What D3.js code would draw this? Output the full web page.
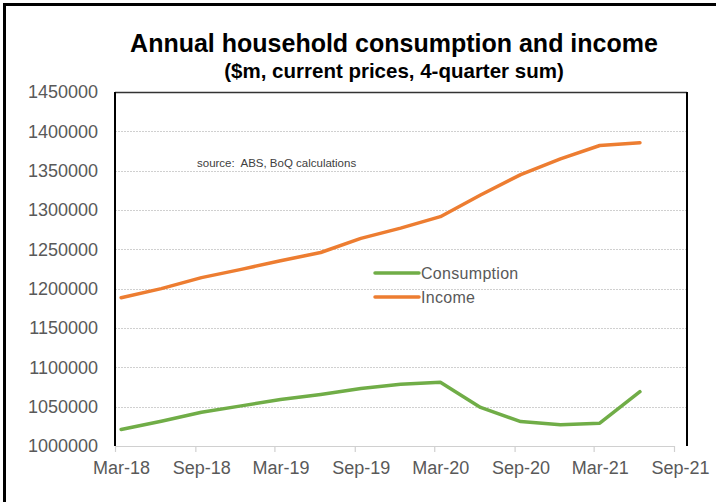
<!DOCTYPE html>
<html>
<head>
<meta charset="utf-8">
<script src="https://cdn.jsdelivr.net/npm/d3@7"></script>
<style>
  body { margin: 0; background: #fff; }
  text { font-family: "Liberation Sans", Arial, sans-serif; }
</style>
</head>
<body>
<div id="chart"></div>
<script>
// quarterly data
var quarters = ["Mar-18", "Jun-18", "Sep-18", "Dec-18", "Mar-19", "Jun-19", "Sep-19",
                "Dec-19", "Mar-20", "Jun-20", "Sep-20", "Dec-20", "Mar-21", "Jun-21"];
var consumption = [1021000, 1031500, 1043000, 1051000, 1059000, 1065500, 1073000,
                   1078500, 1081000, 1049000, 1031000, 1027000, 1029000, 1069000];
var income = [1188500, 1200000, 1214000, 1224500, 1235500, 1246000, 1264000,
              1277000, 1291500, 1319000, 1345000, 1365000, 1382000, 1385500];
var yTicks = [1000000, 1050000, 1100000, 1150000, 1200000, 1250000, 1300000,
              1350000, 1400000, 1450000];
var xTickLabels = ["Mar-18", "Sep-18", "Mar-19", "Sep-19", "Mar-20", "Sep-20", "Mar-21", "Sep-21"];

var W = 716, H = 502;
var plotL = 115, plotR = 687, plotT = 92, plotB = 446;
var parse = d3.timeParse("%b-%y");

var svg = d3.select("#chart").append("svg")
    .attr("width", W)
    .attr("height", H);

// outer chart frame (only top and left show in the crop)
svg.append("line").attr("x1", 4.5).attr("x2", 4.5).attr("y1", 3).attr("y2", H)
    .attr("stroke", "#000").attr("stroke-width", 3);
svg.append("line").attr("x1", 3).attr("x2", W).attr("y1", 4.5).attr("y2", 4.5)
    .attr("stroke", "#000").attr("stroke-width", 3);

// scales
var x = d3.scaleTime()
    .domain([parse("Mar-18"), parse("Sep-21")])
    .range([plotL, 674]);
var y = d3.scaleLinear()
    .domain([1000000, 1450000])
    .range([plotB, plotT]);

// gridlines
svg.append("g")
    .selectAll("line")
    .data(yTicks.slice(1, -1))
    .enter()
    .append("line")
    .attr("x1", plotL).attr("x2", plotR)
    .attr("y1", function(d) { return Math.round(y(d)) + 0.5; })
    .attr("y2", function(d) { return Math.round(y(d)) + 0.5; })
    .attr("stroke", "#d0d0d0")
    .attr("stroke-width", 1.2)
    .attr("stroke-dasharray", "2,1");

// x axis
var xAxis = svg.append("g")
    .attr("transform", "translate(0," + plotB + ")")
    .call(d3.axisBottom(x)
        .tickValues(xTickLabels.map(parse))
        .tickFormat(d3.timeFormat("%b-%y"))
        .tickSize(6)
        .tickSizeOuter(0));
xAxis.select(".domain").attr("stroke", "#d0d0d0").attr("stroke-width", 1.2);
xAxis.selectAll(".tick line").attr("stroke", "#d0d0d0").attr("stroke-width", 1.2);
xAxis.selectAll(".tick text")
    .attr("dx", 6)
    .attr("y", 15)
    .style("font-size", "18px")
    .style("font-family", "'Liberation Sans', Arial, sans-serif")
    .attr("fill", "#595959");

// y axis labels
var yAxis = svg.append("g")
    .attr("transform", "translate(" + plotL + ",0)")
    .call(d3.axisLeft(y)
        .tickValues(yTicks)
        .tickFormat(d3.format("d"))
        .tickSize(0)
        .tickPadding(17));
yAxis.select(".domain").remove();
yAxis.selectAll(".tick text")
    .style("font-size", "18px")
    .style("font-family", "'Liberation Sans', Arial, sans-serif")
    .attr("fill", "#595959");

// plot frame
svg.append("line").attr("x1", plotL).attr("x2", plotR).attr("y1", plotT + 0.5).attr("y2", plotT + 0.5)
    .attr("stroke", "#333").attr("stroke-width", 1.5);
svg.append("line").attr("x1", plotL).attr("x2", plotL).attr("y1", plotT).attr("y2", plotB)
    .attr("stroke", "#000").attr("stroke-width", 2);
svg.append("line").attr("x1", plotR).attr("x2", plotR).attr("y1", plotT).attr("y2", plotB)
    .attr("stroke", "#000").attr("stroke-width", 2);

// lines
var line = d3.line()
    .x(function(d) { return x(d3.timeDay.offset(parse(d.q), 14)); })
    .y(function(d) { return y(d.v); });

var series = [
    { name: "Consumption", color: "#70ad47", values: consumption },
    { name: "Income", color: "#ed7d31", values: income }
];

series.forEach(function(s) {
    var pts = quarters.map(function(q, i) { return { q: q, v: s.values[i] }; });
    svg.append("path")
        .datum(pts)
        .attr("d", line)
        .attr("fill", "none")
        .attr("stroke", s.color)
        .attr("stroke-width", 3.5)
        .attr("stroke-linejoin", "round")
        .attr("stroke-linecap", "round");
});

// legend
var legend = svg.append("g").attr("transform", "translate(375,273)");
series.forEach(function(s, i) {
    legend.append("line")
        .attr("x1", 0).attr("x2", 44)
        .attr("y1", i * 24).attr("y2", i * 24)
        .attr("stroke", s.color)
        .attr("stroke-width", 3.5)
        .attr("stroke-linecap", "round");
    legend.append("text")
        .attr("x", 46)
        .attr("y", i * 24 + 6)
        .style("font-size", "16px")
        .attr("letter-spacing", "0.3px")
        .attr("fill", "#595959")
        .text(s.name);
});

// source note
svg.append("text")
    .attr("x", 197)
    .attr("y", 167)
    .style("font-size", "11.5px")
    .style("white-space", "pre")
    .attr("fill", "#404040")
    .text("source:  ABS, BoQ calculations");

// titles
svg.append("text")
    .attr("x", 394)
    .attr("y", 52)
    .attr("text-anchor", "middle")
    .style("font-size", "25px")
    .style("font-weight", "bold")
    .attr("fill", "#000")
    .text("Annual household consumption and income");

svg.append("text")
    .attr("x", 394)
    .attr("y", 78)
    .attr("text-anchor", "middle")
    .style("font-size", "20.5px")
    .style("font-weight", "bold")
    .attr("fill", "#000")
    .text("($m, current prices, 4-quarter sum)");
</script>
</body>
</html>
